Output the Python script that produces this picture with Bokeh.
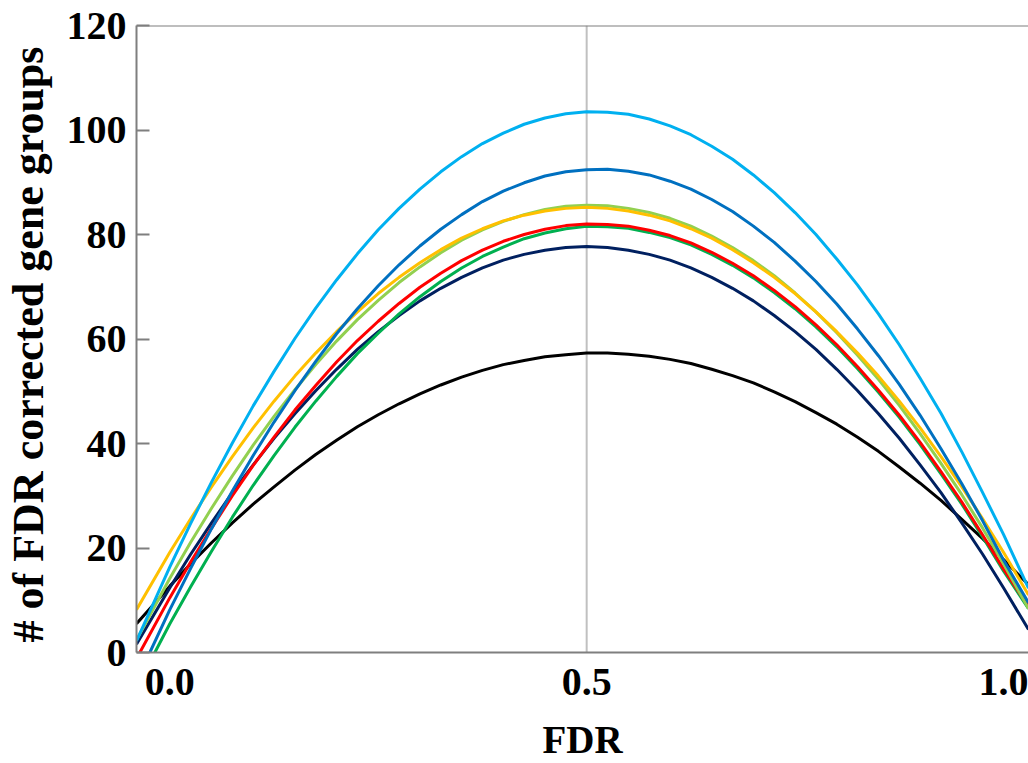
from bokeh.plotting import figure
from bokeh.models import Range1d, FixedTicker, PrintfTickFormatter, Span
from bokeh.embed import file_html
from bokeh.resources import INLINE

# FDR grid shared by all curves (after each curve's own start point)
FDR = [0.000, 0.025, 0.050, 0.075, 0.100, 0.125, 0.150, 0.175, 0.200, 0.225,
       0.250, 0.275, 0.300, 0.325, 0.350, 0.375, 0.400, 0.425, 0.450, 0.475,
       0.500, 0.525, 0.550, 0.575, 0.600, 0.625, 0.650, 0.675, 0.700, 0.725,
       0.750, 0.775, 0.800, 0.825, 0.850, 0.875, 0.900, 0.925, 0.950, 0.975,
       1.000, 1.030]

SERIES = ["light_blue", "blue", "light_green", "yellow", "red", "green", "navy", "black"]
START_FDR = [-0.040, -0.024, -0.040, -0.040, -0.036, -0.018, -0.040, -0.040]
START_VAL = [2.2, 0.0, 2.4, 8.2, 0.0, 0.0, 1.6, 5.5]

LIGHT_BLUE = [16.4, 24.7, 32.6, 40.1, 47.2, 53.8, 60.1, 65.9, 71.3, 76.3,
              80.9, 85.0, 88.7, 92.0, 94.9, 97.4, 99.4, 101.1, 102.3, 103.1,
              103.5, 103.4, 103.0, 102.1, 100.8, 99.1, 96.9, 94.4, 91.4, 88.0,
              84.2, 80.0, 75.3, 70.3, 64.8, 58.9, 52.5, 45.8, 38.4, 30.6,
              22.6, 12.3]
BLUE = [8.2, 16.1, 23.7, 30.9, 37.7, 44.1, 50.1, 55.7, 61.0, 65.8,
        70.2, 74.2, 77.8, 81.0, 83.8, 86.3, 88.3, 89.9, 91.2, 92.0,
        92.4, 92.5, 92.1, 91.4, 90.2, 88.7, 86.7, 84.4, 81.6, 78.5,
        74.9, 71.0, 66.7, 61.9, 56.8, 51.3, 45.4, 39.0, 32.3, 25.2,
        17.7, 9.5]
LIGHT_GREEN = [14.2, 21.1, 27.6, 33.8, 39.7, 45.2, 50.3, 55.1, 59.6, 63.7,
               67.4, 70.8, 73.8, 76.5, 78.9, 80.9, 82.5, 83.8, 84.8, 85.4,
               85.6, 85.5, 85.0, 84.2, 83.1, 81.6, 79.7, 77.5, 75.0, 72.1,
               68.8, 65.2, 61.2, 56.9, 52.3, 47.3, 41.9, 36.2, 30.2, 23.8,
               17.0, 8.4]
YELLOW = [19.2, 25.6, 31.7, 37.5, 43.0, 48.1, 52.9, 57.3, 61.4, 65.2,
          68.7, 71.8, 74.6, 77.1, 79.3, 81.1, 82.6, 83.7, 84.5, 85.0,
          85.2, 85.0, 84.5, 83.7, 82.6, 81.1, 79.3, 77.1, 74.6, 71.8,
          68.7, 65.2, 61.4, 57.3, 52.9, 48.1, 43.0, 37.5, 31.7, 25.6,
          19.2, 11.0]
RED = [10.5, 17.3, 23.8, 30.0, 35.8, 41.2, 46.4, 51.1, 55.6, 59.7,
       63.4, 66.8, 69.9, 72.6, 75.0, 77.0, 78.7, 80.0, 81.0, 81.7,
       82.0, 81.9, 81.6, 80.8, 79.8, 78.4, 76.6, 74.5, 72.1, 69.3,
       66.2, 62.7, 58.9, 54.7, 50.2, 45.4, 40.2, 34.6, 28.8, 22.5,
       16.0, 8.8]
GREEN = [5.5, 12.6, 19.4, 25.9, 32.0, 37.7, 43.1, 48.1, 52.8, 57.2,
         61.1, 64.8, 68.1, 71.0, 73.6, 75.8, 77.6, 79.2, 80.3, 81.1,
         81.6, 81.5, 81.2, 80.4, 79.4, 78.0, 76.2, 74.1, 71.7, 68.9,
         65.8, 62.3, 58.5, 54.3, 49.8, 45.0, 39.8, 34.2, 28.4, 22.1,
         15.6, 8.4]
NAVY = [12.4, 18.8, 24.8, 30.6, 35.9, 41.0, 45.7, 50.1, 54.2, 58.0,
        61.4, 64.5, 67.3, 69.7, 71.8, 73.6, 75.1, 76.2, 77.0, 77.5,
        77.7, 77.5, 77.0, 76.2, 75.1, 73.6, 71.8, 69.7, 67.3, 64.5,
        61.4, 58.0, 54.2, 50.1, 45.7, 41.0, 35.9, 30.6, 24.8, 18.8,
        12.4, 4.4]
BLACK = [12.7, 17.0, 21.0, 24.8, 28.4, 31.7, 34.9, 37.9, 40.6, 43.2,
         45.5, 47.6, 49.5, 51.2, 52.7, 54.0, 55.1, 55.9, 56.6, 57.0,
         57.3, 57.3, 57.1, 56.7, 56.1, 55.3, 54.2, 53.0, 51.6, 49.9,
         48.0, 45.9, 43.7, 41.2, 38.5, 35.5, 32.4, 29.1, 25.5, 21.8,
         17.8, 13.0]

COLORS = ["#00B0F0", "#0070C0", "#92D050", "#FFC000", "#FF0000", "#00B050", "#002060", "#000000"]
VALUES = [LIGHT_BLUE, BLUE, LIGHT_GREEN, YELLOW, RED, GREEN, NAVY, BLACK]

Y_TICKS = [0, 20, 40, 60, 80, 100, 120]
X_TICKS = [0.0, 0.5, 1.0]

FONT = "Liberation Serif"
AXIS_GREY = "#7f7f7f"

p = figure(width=1028, height=763, output_backend="svg", toolbar_location=None,
           x_range=Range1d(-0.040, 1.030), y_range=Range1d(0, 120),
           min_border_left=135, min_border_right=0, min_border_top=25, min_border_bottom=106)
p.outline_line_color = None
p.background_fill_color = "white"
p.border_fill_color = "white"
p.xgrid.grid_line_color = None
p.ygrid.grid_line_color = None

# vertical reference line at FDR = 0.5 and top frame line
p.add_layout(Span(location=0.5, dimension="height", line_color="#c0c0c0",
                  line_width=2, level="underlay"))
p.add_layout(Span(location=120, dimension="width", line_color=AXIS_GREY, line_width=2))

# draw order: back to front
order = [7, 6, 5, 4, 2, 3, 1, 0]
for i in order:
    xs = [START_FDR[i]] + FDR
    ys = [START_VAL[i]] + VALUES[i]
    p.line(xs, ys, line_color=COLORS[i], line_width=3, line_join="round")

# Y axis
ya = p.yaxis[0]
ya.ticker = FixedTicker(ticks=Y_TICKS)
ya.axis_label = "# of  FDR corrected gene groups"
ya.axis_label_text_font = FONT
ya.axis_label_text_font_style = "bold"
ya.axis_label_text_font_size = "44px"
ya.axis_label_text_color = "black"
ya.axis_label_standoff = 11
ya.major_label_text_font = FONT
ya.major_label_text_font_style = "bold"
ya.major_label_text_font_size = "40px"
ya.major_label_text_color = "black"
ya.major_label_standoff = 10
ya.axis_line_color = AXIS_GREY
ya.axis_line_width = 2
ya.major_tick_line_color = AXIS_GREY
ya.major_tick_line_width = 2
ya.major_tick_in = 13
ya.major_tick_out = 0
ya.minor_tick_line_color = None

# X axis
xa = p.xaxis[0]
xa.ticker = FixedTicker(ticks=X_TICKS)
xa.formatter = PrintfTickFormatter(format="%.1f")
xa.axis_label = "FDR"
xa.axis_label_text_font = FONT
xa.axis_label_text_font_style = "bold"
xa.axis_label_text_font_size = "39px"
xa.axis_label_text_color = "black"
xa.axis_label_standoff = 20
xa.major_label_text_font = FONT
xa.major_label_text_font_style = "bold"
xa.major_label_text_font_size = "40px"
xa.major_label_text_color = "black"
xa.major_label_standoff = 10
xa.axis_line_color = AXIS_GREY
xa.axis_line_width = 2
xa.major_tick_line_color = None
xa.minor_tick_line_color = None

open("out.html", "w").write(file_html(p, INLINE))
